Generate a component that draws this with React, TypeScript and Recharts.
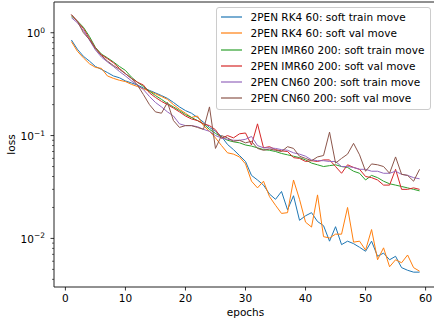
import React from 'react';
import { LineChart, Line, XAxis, YAxis, Legend, ReferenceArea } from 'recharts';

const FONT = '"DejaVu Sans", sans-serif';

// epochs 1..59
const epochs = Array.from({ length: 59 }, (_, i) => i + 1);

const rk4Train = [
  0.85, 0.69, 0.59, 0.53, 0.47, 0.44, 0.41, 0.38, 0.365, 0.34,
  0.325, 0.31, 0.29, 0.275, 0.26, 0.245, 0.23, 0.21, 0.19, 0.175,
  0.165, 0.15, 0.135, 0.12, 0.11, 0.098, 0.082, 0.073, 0.064, 0.056,
  0.041, 0.037, 0.033, 0.027, 0.024, 0.0286, 0.019, 0.026, 0.015, 0.0166,
  0.0178, 0.0146, 0.0133, 0.0094, 0.013, 0.0087, 0.0094, 0.0089, 0.0082, 0.0075,
  0.0094, 0.0067, 0.0072, 0.0062, 0.0067, 0.0052, 0.0049, 0.0047, 0.0047,
];

const rk4Val = [
  0.82, 0.66, 0.57, 0.5, 0.46, 0.45, 0.38, 0.36, 0.345, 0.335,
  0.315, 0.3, 0.285, 0.27, 0.255, 0.24, 0.225, 0.2, 0.18, 0.165,
  0.15, 0.155, 0.125, 0.11, 0.095, 0.08, 0.068, 0.066, 0.062, 0.053,
  0.036, 0.031, 0.036, 0.0255, 0.021, 0.0175, 0.0178, 0.037, 0.024, 0.0144,
  0.0129, 0.0265, 0.0104, 0.0101, 0.011, 0.011, 0.02, 0.0092, 0.0094, 0.0077,
  0.0122, 0.0062, 0.0081, 0.0053, 0.0062, 0.0058, 0.0069, 0.0052, 0.0048,
];

const imrTrain = [
  1.45, 1.3, 1.13, 0.92, 0.72, 0.62, 0.57, 0.52, 0.47, 0.43,
  0.37, 0.33, 0.3, 0.27, 0.245, 0.225, 0.205, 0.19, 0.175, 0.16,
  0.15, 0.14, 0.13, 0.115, 0.105, 0.097, 0.09, 0.087, 0.085, 0.081,
  0.079, 0.076, 0.073, 0.072, 0.07, 0.067, 0.065, 0.063, 0.061, 0.058,
  0.054, 0.052, 0.05, 0.051, 0.052, 0.05, 0.049, 0.045, 0.043, 0.037,
  0.041, 0.039, 0.036, 0.034, 0.033, 0.032, 0.031, 0.03, 0.029,
];

const imrVal = [
  1.5, 1.28, 1.1, 0.88, 0.71, 0.61, 0.56, 0.51, 0.45, 0.4,
  0.36, 0.33, 0.31, 0.26, 0.235, 0.215, 0.2, 0.185, 0.17, 0.155,
  0.145, 0.14, 0.13, 0.125, 0.114, 0.094, 0.1, 0.095, 0.104, 0.106,
  0.081, 0.13, 0.076, 0.078, 0.073, 0.071, 0.07, 0.061, 0.06, 0.056,
  0.057, 0.056, 0.058, 0.058, 0.05, 0.043, 0.052, 0.049, 0.047, 0.04,
  0.039, 0.037, 0.033, 0.033, 0.047, 0.03, 0.03, 0.031, 0.03,
];

const cnTrain = [
  1.4, 1.25, 1.05, 0.85, 0.68, 0.58, 0.52, 0.47, 0.42, 0.38,
  0.34, 0.31, 0.28, 0.24, 0.21, 0.19, 0.17, 0.155, 0.13, 0.125,
  0.125, 0.122, 0.115, 0.11, 0.1, 0.095, 0.092, 0.09, 0.09, 0.092,
  0.098, 0.08, 0.076, 0.076, 0.075, 0.073, 0.072, 0.068, 0.066, 0.063,
  0.058, 0.057, 0.057, 0.056, 0.056, 0.05, 0.05, 0.049, 0.047, 0.047,
  0.045, 0.045, 0.043, 0.043, 0.045, 0.042, 0.041, 0.039, 0.038,
];

const cnVal = [
  1.5, 1.3, 1.0, 0.86, 0.7, 0.6, 0.53, 0.48, 0.44, 0.4,
  0.36, 0.31, 0.25, 0.2, 0.17, 0.165, 0.21, 0.14, 0.12, 0.125,
  0.125, 0.12, 0.115, 0.19, 0.075, 0.1, 0.095, 0.088, 0.09, 0.085,
  0.088, 0.075, 0.072, 0.074, 0.072, 0.07, 0.078, 0.075, 0.063, 0.06,
  0.057, 0.062, 0.064, 0.108, 0.054, 0.06, 0.066, 0.084, 0.065, 0.045,
  0.053, 0.052, 0.05, 0.043, 0.062, 0.042, 0.041, 0.036, 0.047,
];

const seriesKeys = ['rk4Train', 'rk4Val', 'imrTrain', 'imrVal', 'cnTrain', 'cnVal'];
const seriesNames = [
  '2PEN RK4 60: soft train move',
  '2PEN RK4 60: soft val move',
  '2PEN IMR60 200: soft train move',
  '2PEN IMR60 200: soft val move',
  '2PEN CN60 200: soft train move',
  '2PEN CN60 200: soft val move',
];
const seriesColors = ['#1f77b4', '#ff7f0e', '#2ca02c', '#d62728', '#9467bd', '#8c564b'];

const xTicks = [0, 10, 20, 30, 40, 50, 60];
const yTicks = [
  0.004, 0.005, 0.006, 0.007, 0.008, 0.009,
  0.01, 0.02, 0.03, 0.04, 0.05, 0.06, 0.07, 0.08, 0.09,
  0.1, 0.2, 0.3, 0.4, 0.5, 0.6, 0.7, 0.8, 0.9,
  1,
];
const xDomain = [-1.9, 61.9];
const yDomain = [0.00337, 1.99];

const data = epochs.map((epoch, i) => ({
  epoch,
  rk4Train: rk4Train[i],
  rk4Val: rk4Val[i],
  imrTrain: imrTrain[i],
  imrVal: imrVal[i],
  cnTrain: cnTrain[i],
  cnVal: cnVal[i],
}));

const XTick = (props: any) => {
  const { x, y, payload } = props;
  return (
    <g>
      <line x1={x} y1={y} x2={x} y2={y + 3.5} stroke="#000" strokeWidth={0.8} />
      <text x={x} y={y + 15} textAnchor="middle" fontSize={10.5} fontFamily={FONT} fill="#000">
        {payload.value}
      </text>
    </g>
  );
};

const YTick = (props: any) => {
  const { x, y, payload } = props;
  const lg = Math.log10(payload.value);
  const exp = Math.round(lg);
  const major = Math.abs(lg - exp) < 1e-6;
  if (!major) {
    return <line x1={x - 2} y1={y} x2={x} y2={y} stroke="#000" strokeWidth={0.6} />;
  }
  return (
    <g>
      <line x1={x - 3.5} y1={y} x2={x} y2={y} stroke="#000" strokeWidth={0.8} />
      <text x={x - 9} y={y + 4.5} textAnchor="end" fontSize={10.5} fontFamily={FONT} fill="#000">
        10
        <tspan dy={-4.5} fontSize={7.5}>{exp < 0 ? `\u2212${-exp}` : `${exp}`}</tspan>
      </text>
    </g>
  );
};

// keep the legend in the order the series were plotted
const LegendBox = (props: any) => {
  const items = [...(props.payload || [])].sort(
    (a: any, b: any) => seriesNames.indexOf(a.value) - seriesNames.indexOf(b.value)
  );
  return (
    <div
      style={{
        boxSizing: 'border-box',
        width: 215,
        background: 'rgba(255,255,255,0.8)',
        border: '1px solid #cccccc',
        borderRadius: 3,
        padding: '1px 4px 2px 4px',
        fontFamily: FONT,
        fontSize: 10.5,
        color: '#000',
      }}
    >
      {items.map((p: any) => (
        <div key={p.value} style={{ display: 'flex', alignItems: 'center', height: 16.25 }}>
          <svg width={21} height={4} style={{ marginRight: 8.5, flex: 'none' }}>
            <line x1={0} y1={2} x2={21} y2={2} stroke={seriesColors[seriesNames.indexOf(p.value)]} strokeWidth={1.2} />
          </svg>
          <span style={{ whiteSpace: 'nowrap' }}>{p.value}</span>
        </div>
      ))}
    </div>
  );
};

export default function App() {
  return (
    <div
      style={{
        position: 'absolute',
        left: 0,
        top: 0,
        width: 434,
        height: 329,
        overflow: 'hidden',
        background: '#fff',
      }}
    >
      <LineChart width={440} height={329} data={data} margin={{ top: 2, right: 3, left: 0, bottom: 0 }}>
        <XAxis
          dataKey="epoch"
          type="number"
          domain={xDomain}
          ticks={xTicks}
          interval={0}
          allowDataOverflow
          height={42}
          tickSize={0}
          tickMargin={0}
          axisLine={false}
          tickLine={false}
          tick={<XTick />}
          label={(p: any) => {
            const vb = p.viewBox;
            return (
              <text x={vb.x + vb.width / 2} y={vb.y + 29} textAnchor="middle" fontSize={10.5} fontFamily={FONT} fill="#000">
                epochs
              </text>
            );
          }}
        />
        <YAxis
          type="number"
          scale="log"
          domain={yDomain}
          ticks={yTicks}
          interval={0}
          allowDataOverflow
          width={54}
          tickSize={0}
          tickMargin={0}
          axisLine={false}
          tickLine={false}
          tick={<YTick />}
          label={(p: any) => {
            const vb = p.viewBox;
            const cx = vb.x + 15;
            const cy = vb.y + vb.height / 2;
            return (
              <text x={cx} y={cy} transform={`rotate(-90, ${cx}, ${cy})`} textAnchor="middle" fontSize={10.5} fontFamily={FONT} fill="#000">
                loss
              </text>
            );
          }}
        />
        {seriesKeys.map((k, i) => (
          <Line
            key={k}
            type="linear"
            dataKey={k}
            name={seriesNames[i]}
            stroke={seriesColors[i]}
            strokeWidth={1}
            dot={false}
            activeDot={false}
            isAnimationActive={false}
          />
        ))}
        <ReferenceArea
          x1={xDomain[0]}
          x2={xDomain[1]}
          y1={yDomain[0]}
          y2={yDomain[1]}
          fill="none"
          fillOpacity={0}
          stroke="#222"
          strokeWidth={1}
          ifOverflow="visible"
        />
        <Legend
          layout="horizontal"
          align="center"
          verticalAlign="middle"
          wrapperStyle={{ left: 216, top: 7, width: 215 }}
          content={<LegendBox />}
        />
      </LineChart>
    </div>
  );
}
